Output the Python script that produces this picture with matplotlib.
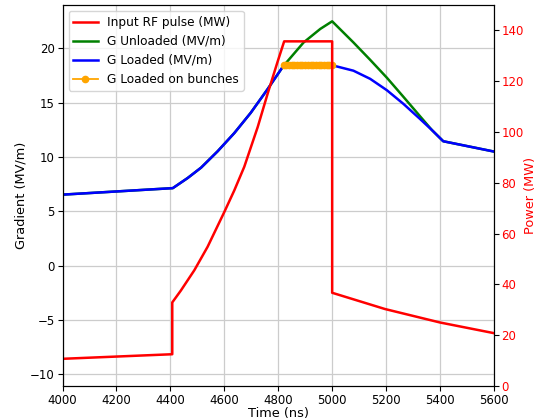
import matplotlib
matplotlib.use("Agg")
import matplotlib.pyplot as plt

# Input RF pulse (MW)
rf_t = [4000, 4407, 4407, 4439, 4489, 4538, 4600, 4637, 4674, 4724, 4761, 4798, 4822,
        5000, 5000, 5196, 5400, 5600]
rf_p = [10.7, 12.5, 32.9, 37.6, 45.6, 54.8, 68.5, 77.0, 86.3, 102.0, 115.2, 127.8, 135.7,
        135.7, 36.7, 30.3, 25.0, 20.8]

# Unloaded gradient (MV/m)
gu_t = [4000, 4409, 4464, 4514, 4575, 4637, 4698, 4760, 4818, 4894, 4956, 5000,
        5079, 5141, 5203, 5264, 5326, 5370, 5412, 5600]
gu_g = [6.53, 7.13, 8.06, 9.02, 10.52, 12.2, 14.07, 16.23, 18.35, 20.55, 21.8, 22.5,
        20.55, 18.95, 17.3, 15.55, 13.75, 12.48, 11.45, 10.5]

# Loaded gradient (MV/m)
gl_t = [4000, 4409, 4464, 4514, 4575, 4637, 4698, 4760, 4818, 5000,
        5079, 5141, 5203, 5264, 5326, 5370, 5412, 5600]
gl_g = [6.53, 7.13, 8.06, 9.02, 10.52, 12.2, 14.07, 16.23, 18.35, 18.45,
        17.95, 17.2, 16.15, 14.9, 13.5, 12.48, 11.45, 10.5]

# Loaded gradient on bunches
gb_t = [4820, 4830, 4840, 4850, 4860, 4870, 4880, 4890, 4900, 4910,
        4920, 4930, 4940, 4950, 4960, 4970, 4980, 4990, 5000]
gb_g = [18.45] * len(gb_t)

fig = plt.figure(figsize=(5.47, 4.2), dpi=100)
ax1 = fig.add_axes([0.1143, 0.081, 0.7887, 0.907])
ax2 = ax1.twinx()

l1, = ax2.plot(rf_t, rf_p, color="red", lw=1.8, label="Input RF pulse (MW)")
l2, = ax1.plot(gu_t, gu_g, color="green", lw=1.8, label="G Unloaded (MV/m)")
l3, = ax1.plot(gl_t, gl_g, color="blue", lw=1.8, label="G Loaded (MV/m)")
l4, = ax1.plot(gb_t, gb_g, color="orange", lw=1.3, marker="o", ms=4.5,
               label="G Loaded on bunches")

ax1.set_xlim(4000, 5600)
ax1.set_ylim(-11.1, 24.0)
ax2.set_ylim(0, 150)
ax1.set_xticks(range(4000, 5601, 200))
ax1.set_yticks([-10, -5, 0, 5, 10, 15, 20])
ax2.set_yticks(range(0, 141, 20))
ax1.grid(True, color="#cccccc", lw=0.9)

ax1.tick_params(labelsize=8.5, pad=2)
ax2.tick_params(labelsize=8.5, pad=2)
ax2.tick_params(axis="y", labelcolor="red")
ax1.set_xlabel("Time (ns)", fontsize=9.3, labelpad=0)
ax1.set_ylabel("Gradient (MV/m)", fontsize=9.3, labelpad=2)
ax2.set_ylabel("Power (MW)", color="red", fontsize=9.3, labelpad=0)

ax2.legend(handles=[l1, l2, l3, l4], loc="upper left", fontsize=8.7)

fig.savefig("out.png", dpi=100)
